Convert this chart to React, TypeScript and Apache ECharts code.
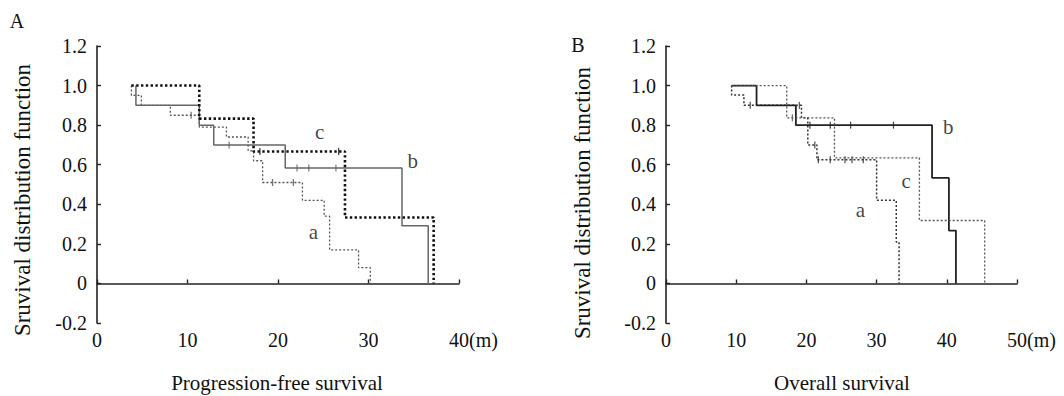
import React, { useEffect, useRef } from "react";
import * as echarts from "echarts";

// ---------- Panel A: Progression-free survival ----------
const pfsTimesA = [3.8, 3.8, 4.9, 8.1, 11.3, 14.3, 16.7, 17.3, 18.3, 22.7, 25.1, 25.7, 28.9, 30.2];
const pfsSurvA = [1.0, 0.95, 0.9, 0.85, 0.79, 0.74, 0.67, 0.62, 0.51, 0.42, 0.34, 0.17, 0.08, 0];
const pfsCensorA = [10.4, 19.4, 21.7];

const pfsTimesB = [4.3, 4.3, 11.3, 12.9, 20.8, 33.7, 36.6];
const pfsSurvB = [1.0, 0.9, 0.8, 0.7, 0.583, 0.292, 0];
const pfsCensorB = [14.6, 22.1, 23.4, 26.4];

const pfsTimesC = [3.8, 11.3, 17.3, 27.4, 37.2];
const pfsSurvC = [1.0, 0.833, 0.667, 0.333, 0];
const pfsCensorC = [18.0, 26.7];

const pfsLabelPos = [
  [23.9, 0.26],
  [34.9, 0.62],
  [24.6, 0.765],
];

// ---------- Panel B: Overall survival ----------
const osTimesA = [9.35, 9.35, 11.1, 19.3, 20.2, 21.5, 30.0, 32.8, 33.2];
const osSurvA = [1.0, 0.952, 0.9, 0.837, 0.7, 0.625, 0.42, 0.21, 0];
const osCensorA = [12.0, 19.0, 21.2, 21.7, 23.4, 25.5, 26.5, 28.1];

const osTimesB = [9.35, 12.9, 18.5, 37.9, 40.3, 41.3];
const osSurvB = [1.0, 0.9, 0.8, 0.533, 0.267, 0];
const osCensorB = [20.5, 23.4, 26.3, 32.4];

const osTimesC = [9.35, 17.2, 24.0, 36.1, 45.4];
const osSurvC = [1.0, 0.837, 0.635, 0.318, 0];
const osCensorC = [18.0];

const osLabelPos = [
  [27.7, 0.37],
  [40.2, 0.79],
  [34.2, 0.52],
];

const curveNames = ["a", "b", "c"];
const yTicks = { min: -0.2, max: 1.2, interval: 0.2 };
const xMaxA = 40;
const xMaxB = 50;
const xInterval = 10;
const unitText = "(m)";

const FONT = "Liberation Serif, Times New Roman, serif";
const INK = "#111";

function stepAt(ts: number[], ss: number[], t: number) {
  let v = ss[0];
  for (let i = 0; i < ts.length; i++) if (ts[i] <= t) v = ss[i];
  return v;
}

type Style = { color: string; width: number; type: any };

function curveSeries(ts: number[], ss: number[], cens: number[], idx: number, st: Style) {
  return [
    {
      type: "line",
      xAxisIndex: idx,
      yAxisIndex: idx,
      step: "end",
      symbol: "none",
      silent: true,
      data: ts.map((t, i) => [t, ss[i]]),
      lineStyle: { color: st.color, width: st.width, type: st.type },
    },
    {
      type: "scatter",
      xAxisIndex: idx,
      yAxisIndex: idx,
      symbol: "rect",
      symbolSize: [1.3, 7],
      silent: true,
      itemStyle: { color: st.color },
      data: cens.map((t) => [t, stepAt(ts, ss, t)]),
    },
  ];
}

function labelSeries(pos: number[][], idx: number) {
  return {
    type: "scatter",
    xAxisIndex: idx,
    yAxisIndex: idx,
    symbolSize: 1,
    silent: true,
    itemStyle: { color: "rgba(0,0,0,0)" },
    data: pos.map((p, i) => ({
      value: p,
      label: {
        show: true,
        position: "inside",
        formatter: curveNames[i],
        fontSize: 21,
        fontFamily: FONT,
        color: INK,
      },
    })),
  };
}

const axisLine = { show: true, lineStyle: { color: "#222", width: 1.6 } };
const axisTick = { show: true, inside: true, length: 4, lineStyle: { color: "#222", width: 1.4 } };

function xAxis(idx: number, max: number) {
  return {
    type: "value",
    gridIndex: idx,
    min: 0,
    max,
    interval: xInterval,
    axisLine,
    axisTick,
    splitLine: { show: false },
    axisLabel: { fontSize: 20, fontFamily: FONT, color: INK, margin: 7 },
  };
}

function yAxis(idx: number) {
  return {
    type: "value",
    gridIndex: idx,
    min: yTicks.min,
    max: yTicks.max,
    interval: yTicks.interval,
    axisLine,
    axisTick,
    splitLine: { show: false },
    axisLabel: {
      fontSize: 20,
      fontFamily: FONT,
      color: INK,
      margin: 10,
      formatter: (v: number) => (Math.abs(v) < 1e-9 ? "0" : v.toFixed(1)),
    },
  };
}

function txt(text: string, x: number, y: number, size: number, align = "center", rotation = 0) {
  return {
    type: "text",
    x,
    y,
    rotation,
    style: { text, font: `${size}px ${FONT}`, fill: INK, align, verticalAlign: "middle" },
  };
}

export default function App() {
  const ref = useRef<HTMLDivElement>(null);
  useEffect(() => {
    if (!ref.current) return;
    const chart = echarts.init(ref.current, null, { renderer: "svg" });
    const thinDot: Style = { color: "#555", width: 1.3, type: [2, 2] };
    const option: any = {
      animation: false,
      backgroundColor: "#fff",
      grid: [
        { left: 97, top: 46, width: 362, height: 277 },
        { left: 666, top: 46, width: 351, height: 277 },
      ],
      xAxis: [xAxis(0, xMaxA), xAxis(1, xMaxB)],
      yAxis: [yAxis(0), yAxis(1)],
      series: [
        ...curveSeries(pfsTimesA, pfsSurvA, pfsCensorA, 0, thinDot),
        ...curveSeries(pfsTimesB, pfsSurvB, pfsCensorB, 0, { color: "#666", width: 1.5, type: "solid" }),
        ...curveSeries(pfsTimesC, pfsSurvC, pfsCensorC, 0, { color: "#111", width: 2.6, type: [2.4, 2.4] }),
        labelSeries(pfsLabelPos, 0),
        ...curveSeries(osTimesA, osSurvA, osCensorA, 1, { color: "#333", width: 1.5, type: [2, 2] }),
        ...curveSeries(osTimesB, osSurvB, osCensorB, 1, { color: "#222", width: 1.8, type: "solid" }),
        ...curveSeries(osTimesC, osSurvC, osCensorC, 1, thinDot),
        labelSeries(osLabelPos, 1),
      ],
      graphic: [
        txt("A", 17, 21, 20),
        txt("B", 578, 45, 20),
        txt("Sruvival distribution function", 22, 200, 23, "center", Math.PI / 2),
        txt("Sruvival distribution function", 582, 203, 23, "center", Math.PI / 2),
        txt("Progression-free survival", 277, 383, 21),
        txt("Overall survival", 842, 383, 21),
        txt(unitText, 469, 340, 20, "left"),
        txt(unitText, 1027, 340, 20, "left"),
      ],
    };
    chart.setOption(option);
    return () => chart.dispose();
  }, []);
  return (
    <div
      ref={ref}
      style={{ position: "fixed", left: 0, top: 0, width: 1064, height: 396, background: "#fff" }}
    />
  );
}
